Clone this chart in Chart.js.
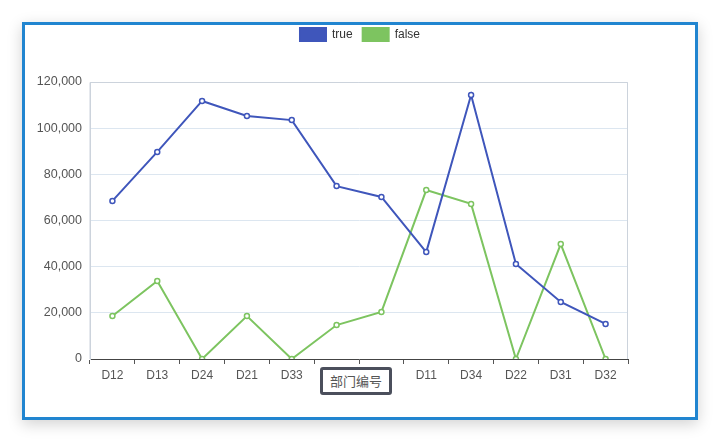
<!DOCTYPE html>
<html>
<head>
<meta charset="utf-8">
<script src="https://cdn.jsdelivr.net/npm/chart.js@4"></script>
<style>
  body { margin: 0; background: #fff; width: 722px; height: 444px; overflow: hidden; font-family: "Liberation Sans", Arial, sans-serif; }
  #card {
    position: absolute; left: 22px; top: 22px; width: 670px; height: 392px;
    border: 3px solid #2185d0; background: #fff;
    box-shadow: 0 4px 14px rgba(0,0,0,0.18);
  }
  #card canvas { position: absolute; left: 0; top: -7px; }
  #xTitle {
    position: absolute; left: 320px; top: 367px; width: 66px; height: 22px;
    border: 3px solid #4b4f5c; border-radius: 3px; background: #fff;
    font: 13px "Noto Sans CJK SC", sans-serif; color: #555; text-align: center; line-height: 22px;
  }
</style>
</head>
<body>
<div id="card"><canvas id="chart" width="670" height="399"></canvas></div>
<div id="xTitle">部门编号</div>
<script>
const categories = ["D12", "D13", "D24", "D21", "D33", "D14", "D23", "D11", "D34", "D22", "D31", "D32"];
const trueValues = [68500, 89700, 111800, 105300, 103500, 74900, 70200, 46300, 114400, 41200, 24700, 15200];
const falseValues = [18600, 33800, 0, 18600, 0, 14700, 20400, 73200, 67200, 0, 49800, 0];
const yTicks = [0, 20000, 40000, 60000, 80000, 100000, 120000];

const blue = "#3f56bb";
const green = "#7dc460";

// legend gets extra room below it, chart area gets a light frame
const frameBox = {
  id: "frameBox",
  beforeInit(chart) {
    const fit = chart.legend.fit;
    chart.legend.fit = function () {
      fit.call(this);
      this.height += 31;
    };
  },
  beforeDatasetsDraw(chart) {
    const a = chart.chartArea;
    const ctx = chart.ctx;
    ctx.save();
    ctx.strokeStyle = "#ccd3dc";
    ctx.lineWidth = 1;
    ctx.beginPath();
    ctx.moveTo(a.left, a.bottom);
    ctx.lineTo(a.left, a.top + 0.5);
    ctx.lineTo(a.right - 0.5, a.top + 0.5);
    ctx.lineTo(a.right - 0.5, a.bottom);
    ctx.stroke();
    ctx.restore();
  }
};

new Chart(document.getElementById("chart"), {
  type: "line",
  data: {
    labels: categories,
    datasets: [
      { label: "true", data: trueValues, borderColor: blue, backgroundColor: blue },
      { label: "false", data: falseValues, borderColor: green, backgroundColor: green }
    ]
  },
  options: {
    responsive: false,
    animation: false,
    layout: { padding: 0 },
    elements: {
      line: { borderWidth: 2, tension: 0 },
      point: { radius: 2.5, borderWidth: 1.5, pointStyle: "circle", hoverRadius: 3 }
    },
    datasets: { line: { pointBackgroundColor: "#fff" } },
    plugins: {
      legend: {
        position: "top",
        labels: {
          boxWidth: 26, boxHeight: 13, padding: 10,
          color: "#333", font: { size: 12, family: "Liberation Sans" }
        }
      },
      tooltip: { enabled: false }
    },
    scales: {
      x: {
        offset: true,
        grid: { display: true, drawOnChartArea: false, drawTicks: true, tickLength: 5, color: "#555", offset: true },
        border: { color: "#444", width: 1 },
        ticks: { color: "#555", font: { size: 12, family: "Liberation Sans" }, padding: 4, maxRotation: 0, autoSkip: false },
        afterFit(scale) { scale.height = 58; }
      },
      y: {
        min: 0, max: 120000,
        afterBuildTicks(scale) { scale.ticks = yTicks.map(v => ({ value: v })); },
        grid: { color: "#dce6f0", drawTicks: false },
        border: { color: "#ccd3dc" },
        ticks: {
          color: "#555", font: { size: 12.5, family: "Liberation Sans" }, padding: 8,
          callback: v => v.toLocaleString("en-US")
        },
        afterFit(scale) { scale.width = 65; }
      },
      // empty right-hand space so the legend stays centred on the card
      yRight: {
        position: "right",
        display: true,
        grid: { display: false },
        border: { display: false },
        ticks: { display: false },
        afterFit(scale) { scale.width = 67; }
      }
    }
  },
  plugins: [frameBox]
});
</script>
</body>
</html>
